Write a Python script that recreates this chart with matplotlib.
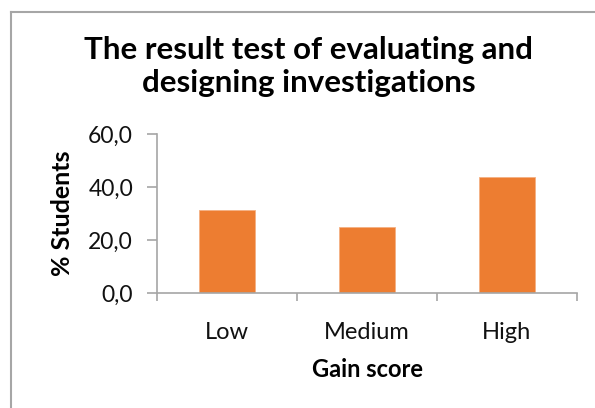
import matplotlib.pyplot as plt
from matplotlib.lines import Line2D

# data
categories = ["Low", "Medium", "High"]
values = [31.25, 25.0, 43.75]
yticks = [0, 20, 40, 60]

plt.rcParams['font.family'] = ['Lato', 'DejaVu Sans']

W, H = 595, 408
fig = plt.figure(figsize=(W / 100, H / 100), dpi=100)

# outer chart border (only top and left visible)
grey = "#A6A6A6"
fig.add_artist(Line2D([11 / W, 1], [1 - 12 / H, 1 - 12 / H], color=grey, lw=1.5))
fig.add_artist(Line2D([11 / W, 11 / W], [0, 1 - 12 / H], color=grey, lw=1.5))

x0, x1, ytop, ybot = 156.7, 577, 134, 293.3
ax = fig.add_axes([x0 / W, 1 - ybot / H, (x1 - x0) / W, (ybot - ytop) / H])

ax.bar(range(len(categories)), values, width=0.4, color="#ED7D31", edgecolor="#F4B183", linewidth=0.6)
ax.set_xlim(-0.5, len(categories) - 0.5)
ax.set_ylim(0, 60)

for s in ["top", "right"]:
    ax.spines[s].set_visible(False)
for s in ["left", "bottom"]:
    ax.spines[s].set_color(grey)
    ax.spines[s].set_linewidth(1.2)

ax.set_yticks(yticks)
ax.set_yticklabels([f"{v:.1f}".replace(".", ",") for v in yticks])
ax.tick_params(axis="y", length=7, width=1.2, color=grey, pad=10, labelsize=16.5, labelcolor="#111111")

ax.set_xticks(range(len(categories)))
ax.set_xticklabels(categories)
ax.set_xticks([i - 0.5 for i in range(len(categories) + 1)], minor=True)
ax.tick_params(axis="x", which="major", length=0, pad=21, labelsize=17, labelcolor="#111111")
ax.tick_params(axis="x", which="minor", length=6, width=1.2, color=grey)

ax.set_ylabel("% Students", fontsize=18, fontweight="bold", va="center")
ax.yaxis.set_label_coords((62 - x0) / (x1 - x0), 0.5)
ax.set_xlabel("Gain score", fontsize=17, fontweight="bold", va="baseline")
ax.xaxis.set_label_coords((368 - x0) / (x1 - x0), (ybot - 377) / (ybot - ytop))

fig.text(308.5 / W, 1 - 36 / H, "The result test of evaluating and\ndesigning investigations",
         ha="center", va="top", fontsize=22.5, fontweight="bold", linespacing=1.2)

fig.savefig("out.png", dpi=100)
